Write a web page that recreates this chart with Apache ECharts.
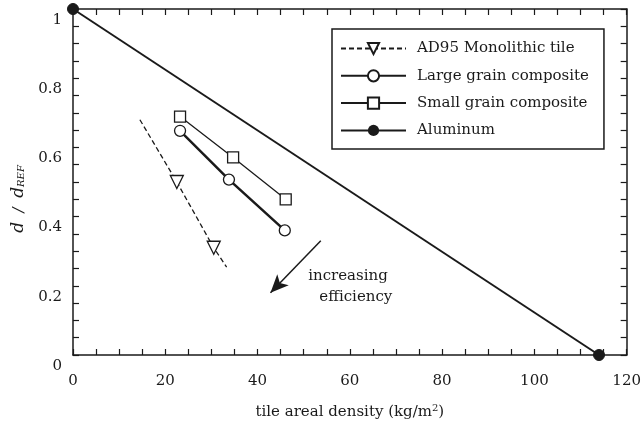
<!DOCTYPE html>
<html><head><meta charset="utf-8">
<script src="https://cdn.jsdelivr.net/npm/echarts@6/dist/echarts.min.js"></script>
<style>html,body{margin:0;padding:0;background:#fff}#c{width:644px;height:425px}</style>
</head><body><div id="c"></div>
<script>
// ---- data ----
const seriesNames = ['AD95 Monolithic tile', 'Large grain composite', 'Small grain composite', 'Aluminum'];
const ad95 = [[14.5, 0.68], [22.5, 0.50], [30.5, 0.31], [33.3, 0.254]];
const ad95HasMarker = [false, true, true, false];
const largeGrain = [[23.2, 0.648], [33.8, 0.507], [45.9, 0.36]];
const smallGrain = [[23.2, 0.689], [34.7, 0.571], [46.1, 0.45]];
const aluminum = [[0, 1.0], [114, 0]];
const arrowLine = [[53.7, 0.33], [42.8, 0.18]];
const noteText = ['increasing', 'efficiency'];
const notePos = [[59.6, 0.228], [61.3, 0.167]];
const xRange = [0, 120];
const xLabelStep = 20;
const xTickStep = 5;
const yRange = [0, 1];
const yLabelStep = 0.2;
const yTickStep = 0.05;

const INK = '#1a1a1a';
const FONT = 'DejaVu Serif';

const chart = echarts.init(document.getElementById('c'));

const isMultiple = (v, step) => Math.abs(v / step - Math.round(v / step)) < 1e-6;
const axisLineStyle = { show: true, onZero: false, lineStyle: { color: INK, width: 1.5 } };
const tickStyle = { show: true, inside: true, length: 6, lineStyle: { color: INK, width: 1.2 } };

chart.setOption({
  animation: false,
  backgroundColor: '#fff',
  textStyle: { fontFamily: FONT, color: INK },
  grid: { left: 73, right: 17, top: 9, bottom: 69, containLabel: false },
  legend: {
    data: seriesNames,
    orient: 'vertical',
    left: 332, top: 29,
    padding: [12, 15, 11, 8],
    itemWidth: 65, itemHeight: 14, itemGap: 12.3,
    borderColor: INK, borderWidth: 1.5,
    backgroundColor: '#fff',
    textStyle: { fontFamily: FONT, fontSize: 15, color: INK, padding: [0, 0, 0, 6] }
  },
  xAxis: [{
    type: 'value', min: xRange[0], max: xRange[1], interval: xTickStep,
    position: 'bottom',
    name: '{n|tile areal density (kg/m}{sup|2}{n|)}',
    nameLocation: 'middle', nameGap: 48,
    nameTextStyle: { rich: {
      n: { fontFamily: FONT, fontSize: 15, color: INK },
      sup: { fontFamily: FONT, fontSize: 10, color: INK, padding: [0, 0, 9, 0] }
    } },
    axisLine: axisLineStyle, axisTick: tickStyle,
    splitLine: { show: false },
    axisLabel: { margin: 19, fontFamily: FONT, fontSize: 15, color: INK,
      formatter: (v) => isMultiple(v, xLabelStep) ? String(v) : '' }
  }, {
    type: 'value', min: xRange[0], max: xRange[1], interval: xTickStep,
    position: 'top',
    axisLine: axisLineStyle, axisTick: tickStyle,
    splitLine: { show: false }, axisLabel: { show: false }
  }],
  yAxis: [{
    type: 'value', min: yRange[0], max: yRange[1], interval: yTickStep,
    position: 'left',
    name: '{i|d}{n|  /  }{i|d}{s|REF}',
    nameLocation: 'middle', nameGap: 30, nameRotate: 90,
    nameTextStyle: { padding: [0, 34, 0, 0], rich: {
      i: { fontFamily: FONT, fontSize: 17, fontStyle: 'italic', color: INK },
      n: { fontFamily: FONT, fontSize: 15, fontStyle: 'italic', color: INK },
      s: { fontFamily: FONT, fontSize: 10, fontStyle: 'italic', color: INK, padding: [6, 0, 0, 0] }
    } },
    axisLine: axisLineStyle, axisTick: tickStyle,
    splitLine: { show: false },
    axisLabel: { margin: 11, fontFamily: FONT, fontSize: 15, color: INK, verticalAlign: 'top', lineHeight: 22,
      formatter: (v) => isMultiple(v, yLabelStep) ? String(Math.round(v * 10) / 10) : '' }
  }, {
    type: 'value', min: yRange[0], max: yRange[1], interval: yTickStep,
    position: 'right',
    axisLine: axisLineStyle, axisTick: tickStyle,
    splitLine: { show: false }, axisLabel: { show: false }
  }],
  series: [
    {
      name: seriesNames[0], type: 'line', clip: false, z: 3,
      data: ad95.map((p, i) => ad95HasMarker[i] ? { value: p } : { value: p, symbol: 'none' }),
      symbol: 'triangle', symbolRotate: 180, symbolSize: 13,
      showAllSymbol: true,
      lineStyle: { color: INK, width: 1.3, type: [5, 3] },
      itemStyle: { color: '#fff', borderColor: INK, borderWidth: 1.3 }
    },
    {
      name: seriesNames[1], type: 'line', clip: false, z: 3,
      data: largeGrain,
      symbol: 'circle', symbolSize: 11,
      lineStyle: { color: INK, width: 2.5 },
      itemStyle: { color: '#fff', borderColor: INK, borderWidth: 1.3 }
    },
    {
      name: seriesNames[2], type: 'line', clip: false, z: 3,
      data: smallGrain,
      symbol: 'rect', symbolSize: 11,
      lineStyle: { color: INK, width: 1.3 },
      itemStyle: { color: '#fff', borderColor: INK, borderWidth: 1.3 }
    },
    {
      name: seriesNames[3], type: 'line', clip: false, z: 4,
      data: aluminum,
      symbol: 'circle', symbolSize: 11,
      lineStyle: { color: INK, width: 2 },
      itemStyle: { color: INK, borderColor: INK }
    },
    {
      type: 'line', data: [], silent: true,
      markLine: {
        silent: true, animation: false,
        symbol: ['none', 'arrow'], symbolSize: [12, 18],
        label: { show: false },
        lineStyle: { color: INK, width: 1.5, type: 'solid' },
        data: [[{ coord: arrowLine[0] }, { coord: arrowLine[1] }]]
      }
    },
    {
      type: 'scatter', silent: true, symbolSize: 0,
      itemStyle: { color: INK, opacity: 1 },
      data: notePos,
      label: {
        show: true, position: [0, 0], align: 'center', verticalAlign: 'middle',
        formatter: (p) => noteText[p.dataIndex],
        fontFamily: FONT, fontSize: 15, color: INK, opacity: 1, textBorderWidth: 0
      }
    }
  ]
});
</script>
</body></html>
